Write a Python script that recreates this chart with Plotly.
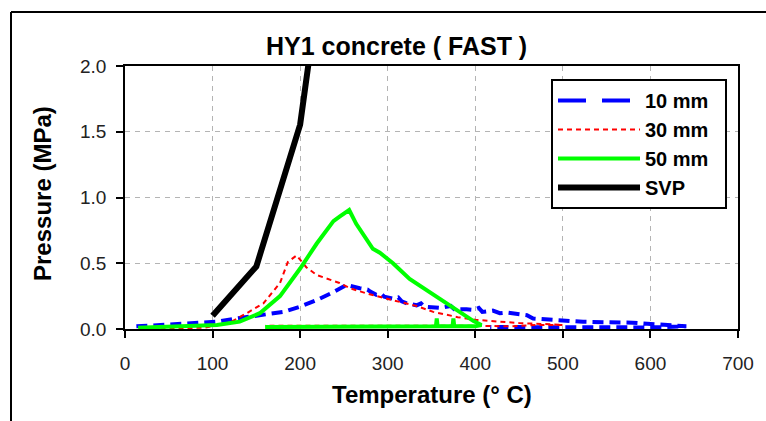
import plotly.graph_objects as go

# ---------------- data ----------------
series_names = ["10 mm", "30 mm", "50 mm", "SVP"]

t10 = [13, 36, 70, 105, 127, 158, 181, 200, 219, 238, 253, 268, 277, 280, 287, 292, 296, 306,
       312, 316, 322, 333, 338, 342, 360, 372, 376, 390, 398, 404, 408, 420, 428, 436, 459,
       466, 504, 523, 580, 626, 641, 600, 560, 500, 450, 417]
p10 = [0.02, 0.03, 0.04, 0.055, 0.08, 0.105, 0.13, 0.17, 0.22, 0.28, 0.335, 0.31, 0.30, 0.285, 0.26,
       0.27, 0.245, 0.23, 0.24, 0.21, 0.195, 0.18, 0.195, 0.17, 0.16, 0.175, 0.15, 0.15, 0.145,
       0.16, 0.13, 0.14, 0.12, 0.125, 0.105, 0.08, 0.063, 0.055, 0.048, 0.03, 0.02, 0.012, 0.012,
       0.012, 0.015, 0.015]

t30 = [20, 72, 91, 105, 120, 139, 158, 177, 186, 196, 207, 219, 230, 245, 257, 276, 299, 322,
       333, 352, 380, 400, 420, 450, 490, 500, 470, 440, 400, 300, 200, 160]
p30 = [0.0, 0.01, 0.01, 0.03, 0.05, 0.12, 0.195, 0.35, 0.51, 0.56, 0.47, 0.41, 0.385, 0.35, 0.31,
       0.27, 0.23, 0.19, 0.175, 0.13, 0.09, 0.07, 0.06, 0.045, 0.035, 0.03, 0.03, 0.02, 0.025,
       0.025, 0.025, 0.025]

t50 = [15, 60, 105, 131, 154, 177, 200, 219, 238, 245, 256, 264, 276, 283, 291, 306, 325, 352,
       379, 398, 407, 400, 376, 375, 374, 357, 356, 355, 160]
p50 = [0.01, 0.02, 0.03, 0.056, 0.12, 0.25, 0.46, 0.65, 0.82, 0.855, 0.905, 0.80, 0.68, 0.61,
       0.58, 0.50, 0.38, 0.26, 0.145, 0.06, 0.03, 0.02, 0.02, 0.08, 0.02, 0.02, 0.08, 0.02, 0.015]

tsvp = [100, 150, 200, 250]
psvp = [0.101, 0.476, 1.555, 3.976]

x_ticks = [0, 100, 200, 300, 400, 500, 600, 700]
y_ticks = [0.0, 0.5, 1.0, 1.5, 2.0]

# ---------------- layout geometry (pixels) ----------------
W, H = 766, 421
L, R, T, B = 125, 738, 66, 329
pw, ph = R - L, B - T

def px(x):
    return (x - L) / pw

def py(y):
    return (B - y) / ph

FONT = "Liberation Sans, Arial, sans-serif"
PADR = "\u00a0\u00a0"  # right padding inside the legend box

fig = go.Figure()

fig.add_trace(go.Scatter(x=t10, y=p10, mode="lines", name=series_names[0], showlegend=False,
                         legendgroup="a",
                         line=dict(color="#0000FF", width=4, dash="11px,6px")))
fig.add_trace(go.Scatter(x=[None], y=[None], mode="lines", name=series_names[0] + PADR,
                         legendgroup="a",
                         line=dict(color="#0000FF", width=4, dash="28px,16px")))
fig.add_trace(go.Scatter(x=t30, y=p30, mode="lines", name=series_names[1] + PADR,
                         line=dict(color="#FF0000", width=2, dash="5px,4px")))
fig.add_trace(go.Scatter(x=t50, y=p50, mode="lines", name=series_names[2] + PADR,
                         line=dict(color="#00FF00", width=4)))
fig.add_trace(go.Scatter(x=tsvp, y=psvp, mode="lines", name=series_names[3] + PADR,
                         line=dict(color="#000000", width=6)))

axis_common = dict(showline=True, linecolor="black", linewidth=1.5, mirror=True,
                   ticks="outside", ticklen=7, tickwidth=1.5, tickcolor="black",
                   showgrid=True, gridcolor="#b4b4b4", gridwidth=1, griddash="5px,5px",
                   zeroline=False,
                   tickfont=dict(family=FONT, size=19, color="#222222"))

fig.update_xaxes(range=[0, 700], tickvals=x_ticks, ticktext=[str(v) for v in x_ticks],
                 ticklabelstandoff=9, **axis_common)
fig.update_yaxes(range=[0, 2.0], tickvals=y_ticks, ticktext=[f"{v:.1f}" for v in y_ticks],
                 ticklabelstandoff=6, **axis_common)

fig.update_layout(
    width=W, height=H,
    margin=dict(l=L, r=W - R, t=T, b=H - B, pad=0),
    paper_bgcolor="white", plot_bgcolor="white",
    font=dict(family=FONT, color="black"),
    legend=dict(x=px(727), y=py(79), xanchor="right", yanchor="top",
                bgcolor="white", bordercolor="black", borderwidth=2,
                font=dict(family=FONT, size=20, color="black", weight="bold"),
                itemwidth=82, tracegroupgap=0),
    annotations=[
        dict(text="<b>HY1 concrete ( FAST )</b>", x=px(396), y=py(46), xref="paper", yref="paper",
             xanchor="center", yanchor="middle", showarrow=False,
             font=dict(family=FONT, size=25, color="black")),
        dict(text="<b>Temperature (° C)</b>", x=px(431.5), y=py(394), xref="paper", yref="paper",
             xanchor="center", yanchor="middle", showarrow=False,
             font=dict(family=FONT, size=24, color="black")),
        dict(text="<b>Pressure (MPa)</b>", x=px(42), y=py(193), xref="paper", yref="paper",
             xanchor="center", yanchor="middle", showarrow=False, textangle=-90,
             font=dict(family=FONT, size=24, color="black")),
    ],
    shapes=[
        dict(type="line", xref="paper", yref="paper", x0=px(11), y0=py(425), x1=px(11), y1=py(12),
             line=dict(color="black", width=2)),
        dict(type="line", xref="paper", yref="paper", x0=px(11), y0=py(12), x1=px(770), y1=py(12),
             line=dict(color="black", width=2)),
    ],
)

fig.write_html("out.html")
